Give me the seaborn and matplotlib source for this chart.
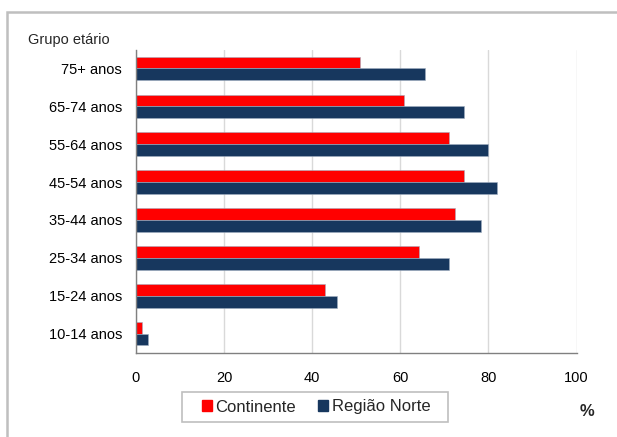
import matplotlib
matplotlib.use("Agg")
import matplotlib.pyplot as plt
import seaborn as sns
import pandas as pd
import numpy as np
from matplotlib.patches import Rectangle

categories = ["75+ anos", "65-74 anos", "55-64 anos", "45-54 anos",
              "35-44 anos", "25-34 anos", "15-24 anos", "10-14 anos"]
continente = [50.9, 60.9, 71.0, 74.5, 72.5, 64.2, 43.0, 1.3]
regiao_norte = [65.7, 74.5, 79.9, 82.0, 78.4, 71.0, 45.6, 2.8]
series = ["Continente", "Região Norte"]
colors = ["#FF0000", "#17375E"]
xticks = [0, 20, 40, 60, 80, 100]

df = pd.DataFrame({
    "grupo": categories * 2,
    "valor": continente + regiao_norte,
    "serie": [series[0]] * len(categories) + [series[1]] * len(categories),
})

sns.set_theme(style="white")
plt.rcParams["font.family"] = ["Liberation Sans", "DejaVu Sans"]

fig = plt.figure(figsize=(6.17, 4.37), dpi=100)
ax = fig.add_axes([136 / 617, 1 - 352.6 / 437, (576.5 - 136) / 617, (352.6 - 49.5) / 437])

sns.barplot(data=df, y="grupo", x="valor", hue="serie", order=categories,
            hue_order=series, palette=colors, orient="h", width=0.62,
            saturation=1, ax=ax, legend=False, edgecolor="#A0AEC0", linewidth=0.4)

ax.set_xlim(0, 100)
ax.set_ylim(len(categories) - 0.5, -0.5)
ax.set_xticks(xticks)
ax.set_xticklabels([str(v) for v in xticks], fontsize=10.5, color="black")
ax.set_yticks(range(len(categories)))
ax.set_yticklabels(categories, fontsize=10.5, color="black")
ax.set_yticks(np.arange(-0.5, len(categories), 1), minor=True)
ax.tick_params(axis="y", which="major", length=0, pad=10)
ax.tick_params(axis="y", which="minor", length=5, width=1, color="#808080", direction="out")
ax.tick_params(axis="x", which="major", length=4, width=1, color="#808080", direction="out", pad=9)
ax.set_xlabel("")
ax.set_ylabel("")
ax.grid(axis="x", color="#D9D9D9", linewidth=1)
ax.set_axisbelow(True)
for s in ["top", "right"]:
    ax.spines[s].set_visible(False)
for s in ["left", "bottom"]:
    ax.spines[s].set_color("#808080")
    ax.spines[s].set_linewidth(1)

# outer chart border
fig.patches.append(Rectangle((7 / 617, -0.1), 1.2, 1 - 12 / 437 + 0.1,
                             transform=fig.transFigure, fill=False,
                             edgecolor="#BFBFBF", linewidth=1.8))

fig.text(28 / 617, 1 - 40 / 437, "Grupo etário", fontsize=10.5, ha="left", va="center")
fig.text(587 / 617, 1 - 412 / 437, "%", fontsize=12, fontweight="bold", ha="center", va="center")

# legend frame
fig.patches.append(Rectangle((182 / 617, 1 - 422 / 437), (448 - 182) / 617, 30 / 437,
                             transform=fig.transFigure, fill=False,
                             edgecolor="#BFBFBF", linewidth=1.2))
handles = [Rectangle((0, 0), 1, 1, color=c) for c in colors]
leg = fig.legend(handles, series, loc="center", bbox_to_anchor=(316 / 617, 1 - 407 / 437),
                 ncol=2, frameon=False, fontsize=12, handlelength=0.63, handleheight=0.63,
                 handletextpad=0.2, columnspacing=1.3, borderpad=0.0, borderaxespad=0)

fig.savefig("out.png", dpi=100)
